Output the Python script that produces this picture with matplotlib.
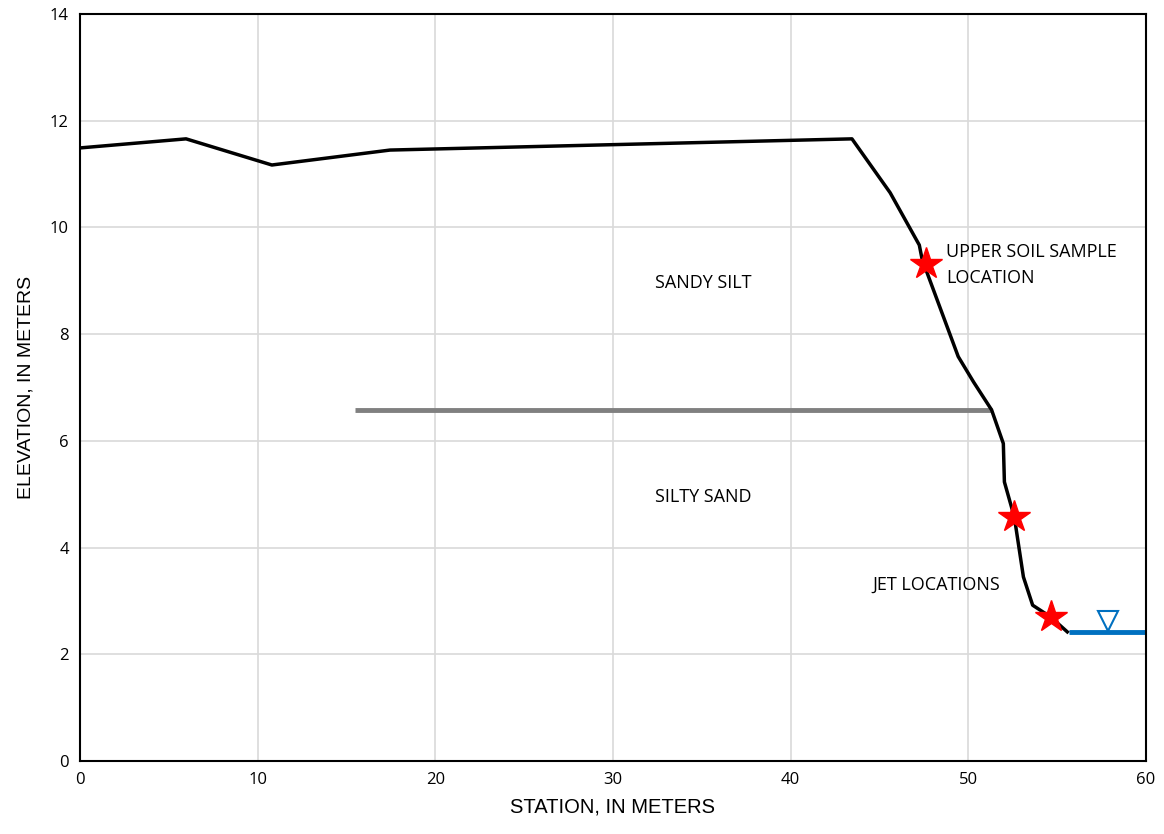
import matplotlib
matplotlib.use("Agg")
import matplotlib.pyplot as plt

# bank profile, station vs elevation (meters)
station = [0.0, 5.97, 10.8, 17.45, 43.45, 45.6, 47.24, 47.4, 49.43, 50.3, 51.31,
           51.97, 52.03, 52.59, 53.1, 53.62, 54.63, 55.57]
elevation = [11.49, 11.66, 11.17, 11.45, 11.66, 10.65, 9.67, 9.4, 7.58, 7.1, 6.58,
             5.95, 5.23, 4.57, 3.45, 2.92, 2.70, 2.42]

# contact between sandy silt and silty sand
contact_x = [15.48, 51.31]
contact_y = [6.58, 6.58]

# water surface
water_x = [55.68, 60.0]
water_y = [2.42, 2.42]
wl_marker = (57.84, 2.62)

# sample / jet locations
star_x = [47.6, 52.59, 54.63]
star_y = [9.31, 4.57, 2.70]

labels = [
    (35.1, 8.96, "SANDY SILT", "center"),
    (35.1, 4.95, "SILTY SAND", "center"),
    (48.2, 3.30, "JET LOCATIONS", "center"),
    (48.74, 9.30, "UPPER SOIL SAMPLE\nLOCATION", "left"),
]

fig = plt.figure(figsize=(11.64, 8.34), dpi=100)
ax = fig.add_axes([80/1164, 1 - 761/834, (1146-80)/1164, (761-14)/834])

ax.plot(contact_x, contact_y, color="#808080", lw=3.5, solid_capstyle="butt", zorder=2)
ax.plot(station, elevation, color="black", lw=2.5, zorder=3)
ax.plot(water_x, water_y, color="#0070C0", lw=3.5, solid_capstyle="butt", zorder=2)
ax.plot(*wl_marker, marker="v", ms=14, mfc="white", mec="#0070C0", mew=1.5, zorder=4)
ax.plot(star_x, star_y, ls="none", marker="*", ms=24, color="red", mec="red", zorder=5)

for x, y, s, ha in labels:
    ax.text(x, y, s, ha=ha, va="center", fontsize=13, family="Open Sans",
            linespacing=1.6)

ax.set_xlim(0, 60)
ax.set_ylim(0, 14)
ax.set_xticks(range(0, 61, 10))
ax.set_yticks(range(0, 15, 2))
ax.grid(True, color="#d9d9d9", lw=1.2)
ax.set_axisbelow(True)
ax.tick_params(length=0, labelsize=12, pad=8)
for lab in ax.get_xticklabels() + ax.get_yticklabels():
    lab.set_family("Open Sans")
for sp in ax.spines.values():
    sp.set_color("black")
    sp.set_linewidth(1.5)

ax.set_xlabel("STATION, IN METERS", fontsize=14.5, family="Liberation Sans", labelpad=7)
ax.set_ylabel("ELEVATION, IN METERS", fontsize=14, family="Liberation Sans", labelpad=11)

fig.savefig("out.png", dpi=100)
